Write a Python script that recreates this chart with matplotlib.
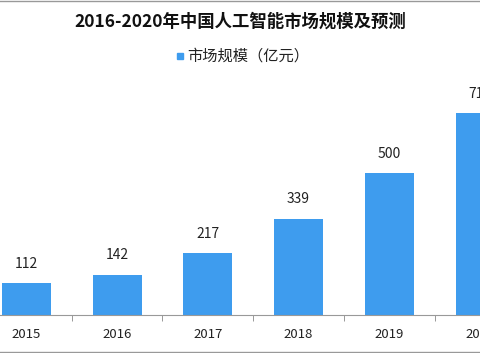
import matplotlib.pyplot as plt
from matplotlib.lines import Line2D
import numpy as np

plt.rcParams["font.family"] = ["Noto Sans CJK SC", "DejaVu Sans"]

years = ["2015", "2016", "2017", "2018", "2019", "2020"]
values = [112, 142, 217, 339, 500, 710]
value_labels = ["112", "142", "217", "339", "500", "710"]

BAR_COLOR = "#3E9CEE"
W, H = 480, 353

fig = plt.figure(figsize=(W / 100, H / 100), dpi=100)
# axes: bottom at pixel 315 from top, top at pixel 60
ax = fig.add_axes([0, (H - 315) / H, 1, (315 - 60) / H])

x = np.arange(len(years))
ax.bar(x, values, width=0.54, color=BAR_COLOR, zorder=2)
for xi, v, lab in zip(x, values, value_labels):
    ax.annotate(lab, (xi, v), xytext=(0, 9), textcoords="offset points",
                ha="center", va="bottom", fontsize=10, color="#222222")

ax.set_xlim(-0.291, 4.984)
ax.set_ylim(0, 898)
ax.set_yticks([])
ax.set_xticks(x, years)
ax.set_xticks(x[:-1] + 0.5, minor=True)
ax.tick_params(axis="x", which="major", length=0, pad=9, labelsize=9.5, labelcolor="#222222")
ax.tick_params(axis="x", which="minor", length=4, color="#888888")
for side in ("top", "right", "left"):
    ax.spines[side].set_visible(False)
ax.spines["bottom"].set_color("#999999")
ax.patch.set_alpha(0)

fig.text(0.5, 1 - 22 / H, "2016-2020年中国人工智能市场规模及预测", ha="center", va="center",
         fontsize=12.5, fontweight="bold", color="#111111")
fig.patches.append(plt.Rectangle((177 / W, 1 - 59 / H), 6 / W, 6 / H,
                                 transform=fig.transFigure, color=BAR_COLOR))
fig.text(187 / W, 1 - 56 / H, "市场规模（亿元）", ha="left", va="center",
         fontsize=11, color="#222222")

fig.add_artist(Line2D([0, 1], [1 - 0.5 / H, 1 - 0.5 / H], transform=fig.transFigure,
                      color="#999999", lw=1))
fig.add_artist(Line2D([0, 1], [1.5 / H, 1.5 / H], transform=fig.transFigure,
                      color="#999999", lw=1))

fig.savefig("out.png", dpi=100)
